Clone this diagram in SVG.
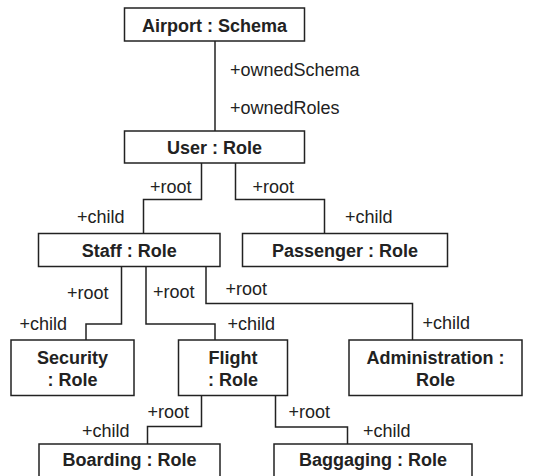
<svg xmlns="http://www.w3.org/2000/svg" width="556" height="476" viewBox="0 0 556 476">
  <style>
    .box { fill: #ffffff; stroke: #222222; stroke-width: 1.5; }
    .name { font-family: "Liberation Sans", Arial, Helvetica, sans-serif; font-size: 18px; font-weight: bold; fill: #222222; text-anchor: middle; }
    .role { font-family: "Liberation Sans", Arial, Helvetica, sans-serif; font-size: 18px; fill: #222222; }
    .link { fill: none; stroke: #222222; stroke-width: 1.5; }
  </style>
  <rect x="0" y="0" width="556" height="476" fill="#ffffff"/>

  <!-- connectors with their association end labels -->
  <g id="connectors">
    <path class="link" d="M215,41 V131"/>
    <text class="role" x="230" y="75.5">+ownedSchema</text>
    <text class="role" x="230" y="113.5">+ownedRoles</text>

    <path class="link" d="M201.5,163 V199.5 H143.5 V233.5"/>
    <text class="role" x="150" y="192.5">+root</text>
    <text class="role" x="77" y="223">+child</text>

    <path class="link" d="M235.5,163 V199.5 H324.5 V233.5"/>
    <text class="role" x="252.5" y="192.5">+root</text>
    <text class="role" x="345" y="223">+child</text>

    <path class="link" d="M121.5,266.5 V324 H86 V340"/>
    <text class="role" x="67" y="298.5">+root</text>
    <text class="role" x="19.5" y="330">+child</text>

    <path class="link" d="M146,266.5 V324 H215 V340"/>
    <text class="role" x="153" y="298">+root</text>
    <text class="role" x="227.5" y="330">+child</text>

    <path class="link" d="M206,266.5 V303.5 H412.5 V340"/>
    <text class="role" x="225.5" y="295">+root</text>
    <text class="role" x="422.5" y="329">+child</text>

    <path class="link" d="M201.5,395.5 V426.5 H147.5 V444"/>
    <text class="role" x="147.5" y="418">+root</text>
    <text class="role" x="82" y="436.5">+child</text>

    <path class="link" d="M275.5,395.5 V427 H347.5 V444"/>
    <text class="role" x="288.5" y="418">+root</text>
    <text class="role" x="363" y="436.5">+child</text>
  </g>

  <g id="airport">
    <rect class="box" x="124.5" y="8" width="180" height="33"/>
    <text class="name" x="214.5" y="31.5">Airport : Schema</text>
  </g>
  <g id="user">
    <rect class="box" x="124.5" y="131" width="180" height="32"/>
    <text class="name" x="214.5" y="153.5">User : Role</text>
  </g>
  <g id="staff">
    <rect class="box" x="38.5" y="233.5" width="181.5" height="33"/>
    <text class="name" x="129.3" y="256.5">Staff : Role</text>
  </g>
  <g id="passenger">
    <rect class="box" x="242.5" y="233.5" width="205" height="33"/>
    <text class="name" x="345" y="256.5">Passenger : Role</text>
  </g>
  <g id="security">
    <rect class="box" x="11" y="340" width="123" height="55.5"/>
    <text class="name" x="72.5" y="363.5">Security</text>
    <text class="name" x="72.5" y="385.5">: Role</text>
  </g>
  <g id="flight">
    <rect class="box" x="178.5" y="340" width="109" height="55.5"/>
    <text class="name" x="233" y="363.5">Flight</text>
    <text class="name" x="233" y="385.5">: Role</text>
  </g>
  <g id="administration">
    <rect class="box" x="349" y="340" width="173" height="55.5"/>
    <text class="name" x="435.5" y="363.5">Administration :</text>
    <text class="name" x="435.5" y="385.5">Role</text>
  </g>
  <g id="boarding">
    <rect class="box" x="39" y="444" width="181" height="40"/>
    <text class="name" x="129.5" y="466">Boarding : Role</text>
  </g>
  <g id="baggaging">
    <rect class="box" x="274" y="444" width="198" height="40"/>
    <text class="name" x="373" y="466">Baggaging : Role</text>
  </g>
</svg>
